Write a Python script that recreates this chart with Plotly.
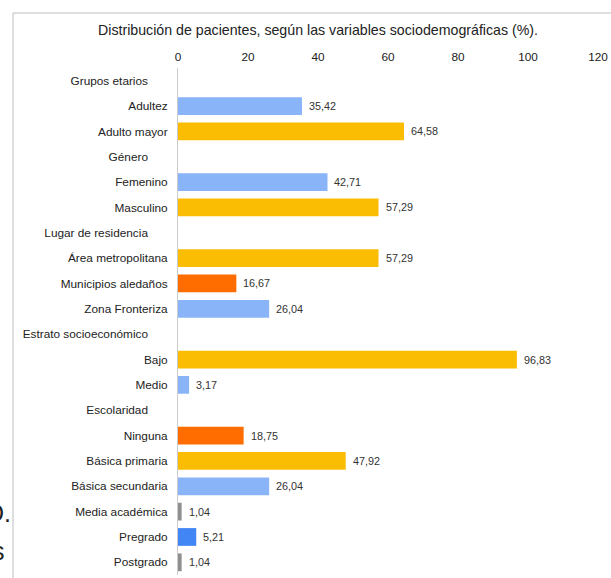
import plotly.graph_objects as go

categories = [
    "Grupos etarios", "Adultez", "Adulto mayor",
    "Género", "Femenino", "Masculino",
    "Lugar de residencia", "Área metropolitana", "Municipios aledaños", "Zona Fronteriza",
    "Estrato socioeconómico", "Bajo", "Medio",
    "Escolaridad", "Ninguna", "Básica primaria", "Básica secundaria",
    "Media académica", "Pregrado", "Postgrado",
]
is_header = [True, False, False, True, False, False, True, False, False, False,
             True, False, False, True, False, False, False, False, False, False]
values = [None, 35.42, 64.58, None, 42.71, 57.29, None, 57.29, 16.67, 26.04,
          None, 96.83, 3.17, None, 18.75, 47.92, 26.04, 1.04, 5.21, 1.04]

LB, YE, OR, GR, BL = "#8ab4f8", "#fbbc04", "#ff6d01", "#8f8f8f", "#4285f4"
colors = [LB, LB, YE, LB, LB, YE, LB, YE, OR, LB,
          LB, YE, LB, LB, OR, YE, LB, GR, BL, GR]

x_ticks = [0, 20, 40, 60, 80, 100, 120]
title = "Distribución de pacientes, según las variables sociodemográficas (%)."

W, H = 611, 578
ML, MR, MT, MB = 178, 13, 68, 3
PW, PH = W - ML - MR, H - MT - MB

def px_x(px):
    return (px - ML) / PW

def px_y(py):
    return (H - MB - py) / PH

ticktext = [c + "\u00a0" * 6 if h else c for c, h in zip(categories, is_header)]

fig = go.Figure()
fig.add_trace(go.Bar(
    x=values, y=categories, orientation="h",
    marker=dict(color=colors, line=dict(width=0)),
    hoverinfo="skip",
))

annotations = []
for c, v in zip(categories, values):
    if v is None:
        continue
    annotations.append(dict(
        x=v, y=c, xref="x", yref="y", xanchor="left", yanchor="middle",
        xshift=5, showarrow=False,
        text=f"{v:.2f}".replace(".", ","),
        font=dict(family="Liberation Sans, Arial", size=10.8, color="#333333"),
    ))

# cropped text fragments visible at the far left of the reference
annotations.append(dict(x=px_x(12.5), y=px_y(513), xref="paper", yref="paper",
                        xanchor="right", yanchor="middle", showarrow=False, text="D.",
                        font=dict(family="Liberation Sans, Arial", size=25, color="#222222")))
annotations.append(dict(x=px_x(6.5), y=px_y(551), xref="paper", yref="paper",
                        xanchor="right", yanchor="middle", showarrow=False, text="s",
                        font=dict(family="Liberation Sans, Arial", size=25, color="#222222")))

shapes = [
    dict(type="line", xref="paper", yref="paper", x0=px_x(13), x1=px_x(13),
         y0=px_y(H + 5), y1=px_y(13), line=dict(color="#bdbdbd", width=1)),
    dict(type="line", xref="paper", yref="paper", x0=px_x(13), x1=px_x(W + 5),
         y0=px_y(13), y1=px_y(13), line=dict(color="#bdbdbd", width=1)),
]

fig.update_layout(
    width=W, height=H,
    margin=dict(l=ML, r=MR, t=MT, b=MB, pad=0),
    paper_bgcolor="white", plot_bgcolor="white",
    font=dict(family="Liberation Sans, Arial", size=11.8, color="#222222"),
    title=dict(text=title, x=318 / W, xanchor="center", xref="container",
               y=1 - 30 / H, yanchor="middle",
               font=dict(size=14.2, color="#222222")),
    bargap=0.3,
    showlegend=False,
    annotations=annotations,
    shapes=shapes,
    xaxis=dict(side="top", range=[0, 120], tickvals=x_ticks,
               ticktext=[str(t) for t in x_ticks], showgrid=False, zeroline=False,
               showline=False, ticks="", ticklabelstandoff=4,
               tickfont=dict(size=11.8, color="#222222"), fixedrange=True),
    yaxis=dict(type="category", categoryorder="array", categoryarray=categories,
               autorange="reversed", tickvals=categories, ticktext=ticktext,
               showgrid=False, zeroline=False, showline=True, linecolor="#cccccc",
               linewidth=1, ticks="", ticklabelstandoff=7,
               tickfont=dict(size=11.8, color="#222222"), fixedrange=True),
)

fig.write_html("out.html",
               config={"displayModeBar": False, "staticPlot": True},
               post_script="document.body.style.margin='0';document.body.style.overflow='hidden';")
